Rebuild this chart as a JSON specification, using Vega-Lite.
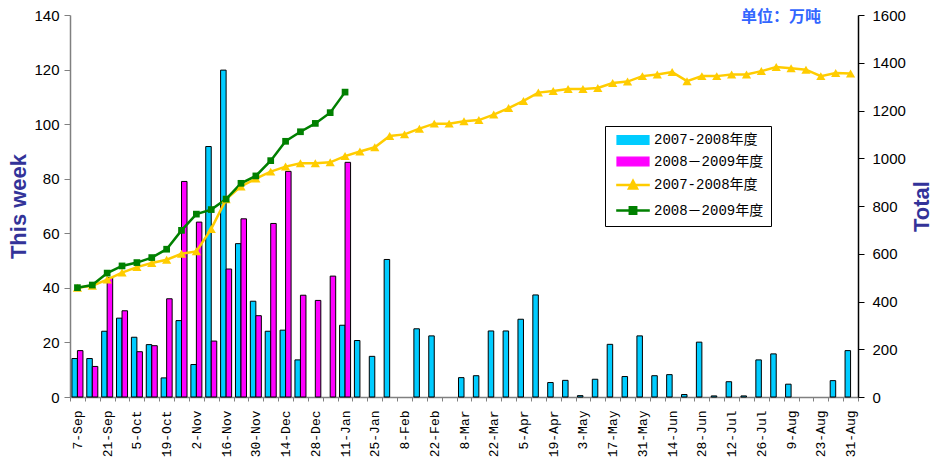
{
  "$schema": "https://vega.github.io/schema/vega-lite/v6.json",
  "autosize": "none",
  "width": 788,
  "height": 382,
  "padding": {"left": 70, "top": 15, "right": 82, "bottom": 68},
  "background": "white",
  "config": {
    "view": {"stroke": null},
    "axis": {"grid": false},
    "legend": {
      "orient": "none", "legendX": 535, "legendY": 111,
      "direction": "vertical",
      "strokeColor": "black", "fillColor": "white", "padding": 7,
      "labelFont": "Liberation Mono, Noto Sans CJK SC", "labelFontSize": 14, "labelColor": "black",
      "labelOffset": 14, "rowPadding": 7.5, "symbolOffset": 14
    }
  },
  "title": {"text": "单位：万吨", "anchor": "end", "frame": "group", "orient": "top", "font": "Noto Sans CJK SC", "fontSize": 16, "fontWeight": "bold", "color": "#3366FF", "dx": -37, "baseline": "middle", "offset": 0, "dy": 25},
  "datasets": {
    "bars": [
      {"week": "7-Sep", "series": "A07", "value": 14.1}, {"week": "7-Sep", "series": "A08", "value": 17.0},
      {"week": "14-Sep", "series": "A07", "value": 14.1}, {"week": "14-Sep", "series": "A08", "value": 11.2},
      {"week": "21-Sep", "series": "A07", "value": 24.1}, {"week": "21-Sep", "series": "A08", "value": 43.8},
      {"week": "28-Sep", "series": "A07", "value": 28.9}, {"week": "28-Sep", "series": "A08", "value": 31.6},
      {"week": "5-Oct", "series": "A07", "value": 21.9}, {"week": "5-Oct", "series": "A08", "value": 16.6},
      {"week": "12-Oct", "series": "A07", "value": 19.2}, {"week": "12-Oct", "series": "A08", "value": 18.8},
      {"week": "19-Oct", "series": "A07", "value": 7.0}, {"week": "19-Oct", "series": "A08", "value": 36.0},
      {"week": "26-Oct", "series": "A07", "value": 28.0}, {"week": "26-Oct", "series": "A08", "value": 79.0},
      {"week": "2-Nov", "series": "A07", "value": 11.9}, {"week": "2-Nov", "series": "A08", "value": 64.1},
      {"week": "9-Nov", "series": "A07", "value": 91.8}, {"week": "9-Nov", "series": "A08", "value": 20.5},
      {"week": "16-Nov", "series": "A07", "value": 119.8}, {"week": "16-Nov", "series": "A08", "value": 46.9},
      {"week": "23-Nov", "series": "A07", "value": 56.2}, {"week": "23-Nov", "series": "A08", "value": 65.3},
      {"week": "30-Nov", "series": "A07", "value": 35.1}, {"week": "30-Nov", "series": "A08", "value": 29.8},
      {"week": "7-Dec", "series": "A07", "value": 24.1}, {"week": "7-Dec", "series": "A08", "value": 63.6},
      {"week": "14-Dec", "series": "A07", "value": 24.5}, {"week": "14-Dec", "series": "A08", "value": 82.7},
      {"week": "21-Dec", "series": "A07", "value": 13.6}, {"week": "21-Dec", "series": "A08", "value": 37.3},
      {"week": "28-Dec", "series": "A08", "value": 35.4},
      {"week": "4-Jan", "series": "A08", "value": 44.3},
      {"week": "11-Jan", "series": "A07", "value": 26.3}, {"week": "11-Jan", "series": "A08", "value": 86.0},
      {"week": "18-Jan", "series": "A07", "value": 20.7},
      {"week": "25-Jan", "series": "A07", "value": 14.9},
      {"week": "1-Feb", "series": "A07", "value": 50.4},
      {"week": "15-Feb", "series": "A07", "value": 25.0},
      {"week": "22-Feb", "series": "A07", "value": 22.4},
      {"week": "8-Mar", "series": "A07", "value": 7.1},
      {"week": "15-Mar", "series": "A07", "value": 7.8},
      {"week": "22-Mar", "series": "A07", "value": 24.2},
      {"week": "29-Mar", "series": "A07", "value": 24.2},
      {"week": "5-Apr", "series": "A07", "value": 28.5},
      {"week": "12-Apr", "series": "A07", "value": 37.4},
      {"week": "19-Apr", "series": "A07", "value": 5.3},
      {"week": "26-Apr", "series": "A07", "value": 6.1},
      {"week": "3-May", "series": "A07", "value": 0.5},
      {"week": "10-May", "series": "A07", "value": 6.5},
      {"week": "17-May", "series": "A07", "value": 19.3},
      {"week": "24-May", "series": "A07", "value": 7.5},
      {"week": "31-May", "series": "A07", "value": 22.4},
      {"week": "7-Jun", "series": "A07", "value": 7.8},
      {"week": "14-Jun", "series": "A07", "value": 8.2},
      {"week": "21-Jun", "series": "A07", "value": 0.9},
      {"week": "28-Jun", "series": "A07", "value": 20.1},
      {"week": "5-Jul", "series": "A07", "value": 0.4},
      {"week": "12-Jul", "series": "A07", "value": 5.6},
      {"week": "19-Jul", "series": "A07", "value": 0.4},
      {"week": "26-Jul", "series": "A07", "value": 13.6},
      {"week": "2-Aug", "series": "A07", "value": 15.8},
      {"week": "9-Aug", "series": "A07", "value": 4.7},
      {"week": "30-Aug", "series": "A07", "value": 6.0},
      {"week": "31-Aug", "series": "A07", "value": 17.0}
    ],
    "totals": [
      {"week": "7-Sep", "series": "L07", "total": 458}, {"week": "14-Sep", "series": "L07", "total": 466},
      {"week": "21-Sep", "series": "L07", "total": 492}, {"week": "28-Sep", "series": "L07", "total": 521},
      {"week": "5-Oct", "series": "L07", "total": 544}, {"week": "12-Oct", "series": "L07", "total": 561},
      {"week": "19-Oct", "series": "L07", "total": 575}, {"week": "26-Oct", "series": "L07", "total": 600},
      {"week": "2-Nov", "series": "L07", "total": 610}, {"week": "9-Nov", "series": "L07", "total": 704},
      {"week": "16-Nov", "series": "L07", "total": 828}, {"week": "23-Nov", "series": "L07", "total": 882},
      {"week": "30-Nov", "series": "L07", "total": 915}, {"week": "7-Dec", "series": "L07", "total": 944},
      {"week": "14-Dec", "series": "L07", "total": 965}, {"week": "21-Dec", "series": "L07", "total": 979},
      {"week": "28-Dec", "series": "L07", "total": 979}, {"week": "4-Jan", "series": "L07", "total": 983},
      {"week": "11-Jan", "series": "L07", "total": 1009}, {"week": "18-Jan", "series": "L07", "total": 1028},
      {"week": "25-Jan", "series": "L07", "total": 1046}, {"week": "1-Feb", "series": "L07", "total": 1093},
      {"week": "8-Feb", "series": "L07", "total": 1100}, {"week": "15-Feb", "series": "L07", "total": 1124},
      {"week": "22-Feb", "series": "L07", "total": 1145}, {"week": "1-Mar", "series": "L07", "total": 1145},
      {"week": "8-Mar", "series": "L07", "total": 1155}, {"week": "15-Mar", "series": "L07", "total": 1160},
      {"week": "22-Mar", "series": "L07", "total": 1183}, {"week": "29-Mar", "series": "L07", "total": 1210},
      {"week": "5-Apr", "series": "L07", "total": 1240}, {"week": "12-Apr", "series": "L07", "total": 1275},
      {"week": "19-Apr", "series": "L07", "total": 1282}, {"week": "26-Apr", "series": "L07", "total": 1290},
      {"week": "3-May", "series": "L07", "total": 1290}, {"week": "10-May", "series": "L07", "total": 1294},
      {"week": "17-May", "series": "L07", "total": 1315}, {"week": "24-May", "series": "L07", "total": 1321},
      {"week": "31-May", "series": "L07", "total": 1344}, {"week": "7-Jun", "series": "L07", "total": 1351},
      {"week": "14-Jun", "series": "L07", "total": 1361}, {"week": "21-Jun", "series": "L07", "total": 1323},
      {"week": "28-Jun", "series": "L07", "total": 1344}, {"week": "5-Jul", "series": "L07", "total": 1344},
      {"week": "12-Jul", "series": "L07", "total": 1351}, {"week": "19-Jul", "series": "L07", "total": 1351},
      {"week": "26-Jul", "series": "L07", "total": 1365}, {"week": "2-Aug", "series": "L07", "total": 1382},
      {"week": "9-Aug", "series": "L07", "total": 1377}, {"week": "16-Aug", "series": "L07", "total": 1371},
      {"week": "23-Aug", "series": "L07", "total": 1344}, {"week": "30-Aug", "series": "L07", "total": 1357},
      {"week": "31-Aug", "series": "L07", "total": 1355},
      {"week": "7-Sep", "series": "L08", "total": 458}, {"week": "14-Sep", "series": "L08", "total": 469},
      {"week": "21-Sep", "series": "L08", "total": 519}, {"week": "28-Sep", "series": "L08", "total": 549},
      {"week": "5-Oct", "series": "L08", "total": 563}, {"week": "12-Oct", "series": "L08", "total": 584},
      {"week": "19-Oct", "series": "L08", "total": 619}, {"week": "26-Oct", "series": "L08", "total": 698},
      {"week": "2-Nov", "series": "L08", "total": 766}, {"week": "9-Nov", "series": "L08", "total": 785},
      {"week": "16-Nov", "series": "L08", "total": 829}, {"week": "23-Nov", "series": "L08", "total": 895},
      {"week": "30-Nov", "series": "L08", "total": 926}, {"week": "7-Dec", "series": "L08", "total": 990},
      {"week": "14-Dec", "series": "L08", "total": 1071}, {"week": "21-Dec", "series": "L08", "total": 1111},
      {"week": "28-Dec", "series": "L08", "total": 1146}, {"week": "4-Jan", "series": "L08", "total": 1191},
      {"week": "11-Jan", "series": "L08", "total": 1277}
    ]
  },
  "layer": [
    {
      "data": {"name": "bars"},
      "mark": {"type": "bar", "stroke": "black", "strokeWidth": 1},
      "encoding": {
        "x": {
          "field": "week", "type": "nominal",
          "scale": {
            "domain": ["7-Sep","14-Sep","21-Sep","28-Sep","5-Oct","12-Oct","19-Oct","26-Oct","2-Nov","9-Nov","16-Nov","23-Nov","30-Nov","7-Dec","14-Dec","21-Dec","28-Dec","4-Jan","11-Jan","18-Jan","25-Jan","1-Feb","8-Feb","15-Feb","22-Feb","1-Mar","8-Mar","15-Mar","22-Mar","29-Mar","5-Apr","12-Apr","19-Apr","26-Apr","3-May","10-May","17-May","24-May","31-May","7-Jun","14-Jun","21-Jun","28-Jun","5-Jul","12-Jul","19-Jul","26-Jul","2-Aug","9-Aug","16-Aug","23-Aug","30-Aug","31-Aug"],
            "paddingInner": 0, "paddingOuter": 0
          },
          "axis": {
            "title": null,
            "labelAngle": -90, "labelAlign": "right", "labelBaseline": "middle",
            "labelFont": "Liberation Mono", "labelFontSize": 13, "labelColor": "black",
            "labelPadding": 9, "labelOverlap": false,
            "labelExpr": "indexof(['7-Sep','21-Sep','5-Oct','19-Oct','2-Nov','16-Nov','30-Nov','14-Dec','28-Dec','11-Jan','25-Jan','8-Feb','22-Feb','8-Mar','22-Mar','5-Apr','19-Apr','3-May','17-May','31-May','14-Jun','28-Jun','12-Jul','26-Jul','9-Aug','23-Aug','31-Aug'], datum.value) >= 0 ? datum.value : ''",
            "tickBand": "extent", "tickSize": 4, "tickColor": "#808080",
            "domainColor": "#808080", "domainWidth": 1.5
          }
        },
        "xOffset": {"field": "series", "type": "nominal", "scale": {"domain": ["A07", "A08"], "paddingOuter": 0.35, "paddingInner": 0}},
        "y": {
          "field": "value", "type": "quantitative",
          "scale": {"domain": [0, 140]},
          "axis": {
            "title": "This week", "values": [0, 20, 40, 60, 80, 100, 120, 140],
            "labelFont": "Liberation Sans", "labelFontSize": 15, "labelColor": "black", "labelPadding": 5,
            "tickSize": 6, "tickColor": "#808080", "domainColor": "#808080", "domainWidth": 1.5,
            "titleFont": "Liberation Sans", "titleFontSize": 22, "titleFontWeight": "bold", "titleColor": "#333399", "titlePadding": 3
          }
        },
        "color": {
          "field": "series", "type": "nominal",
          "scale": {"domain": ["A07", "A08", "L07", "L08"], "range": ["#00CCFF", "#FF00FF", "#FFCC00", "#008000"]},
          "legend": {
            "title": null,
            "labelExpr": "(datum.value == 'A07' || datum.value == 'L07') ? '2007-2008年度' : '2008－2009年度'",
            "symbolType": "M-2,-0.55H2V0.55H-2Z",
            "symbolSize": 256,
            "encode": {
              "symbols": {
                "update": {
                  "shape": {"signal": "datum.value == 'A07' || datum.value == 'A08' ? 'M-2,-0.55H2V0.55H-2Z' : (datum.value == 'L07' ? 'M-2.1,0H2.1M-0.5,0.45L0,-0.5L0.5,0.45Z' : 'M-2.1,0H2.1M-0.4,-0.4H0.4V0.4H-0.4Z')"},
                  "fill": {"signal": "datum.value == 'A07' ? '#00CCFF' : datum.value == 'A08' ? '#FF00FF' : datum.value == 'L07' ? '#FFCC00' : '#008000'"},
                  "stroke": {"signal": "datum.value == 'A07' || datum.value == 'A08' ? 'black' : (datum.value == 'L07' ? '#FFCC00' : '#008000')"},
                  "strokeWidth": {"signal": "datum.value == 'A07' || datum.value == 'A08' ? 1.2 : 2.5"},
                  "opacity": {"value": 1},
                  "fillOpacity": {"value": 1}
                }
              }
            }
          }
        }
      }
    },
    {
      "data": {"name": "totals"},
      "layer": [
        {
          "mark": {"type": "line", "strokeWidth": 2.5},
          "encoding": {
            "x": {"field": "week", "type": "nominal"},
            "y": {
              "field": "total", "type": "quantitative",
              "scale": {"domain": [0, 1600]},
              "axis": {
                "orient": "right", "title": "Total", "values": [0, 200, 400, 600, 800, 1000, 1200, 1400, 1600], "format": "d",
                "labelFont": "Liberation Sans", "labelFontSize": 15, "labelColor": "black", "labelPadding": 8,
                "tickSize": 6, "tickColor": "black", "domainColor": "black", "domainWidth": 1.5,
                "titleFont": "Liberation Sans", "titleFontSize": 22, "titleFontWeight": "bold", "titleColor": "#333399",
                "titleAngle": 270, "titleBaseline": "top", "titlePadding": 6
              }
            },
            "color": {"field": "series", "type": "nominal", "legend": {
            "title": null,
            "labelExpr": "(datum.value == 'A07' || datum.value == 'L07') ? '2007-2008年度' : '2008－2009年度'",
            "symbolType": "M-2,-0.55H2V0.55H-2Z",
            "symbolSize": 256,
            "encode": {
              "symbols": {
                "update": {
                  "shape": {"signal": "datum.value == 'A07' || datum.value == 'A08' ? 'M-2,-0.55H2V0.55H-2Z' : (datum.value == 'L07' ? 'M-2.1,0H2.1M-0.5,0.45L0,-0.5L0.5,0.45Z' : 'M-2.1,0H2.1M-0.4,-0.4H0.4V0.4H-0.4Z')"},
                  "fill": {"signal": "datum.value == 'A07' ? '#00CCFF' : datum.value == 'A08' ? '#FF00FF' : datum.value == 'L07' ? '#FFCC00' : '#008000'"},
                  "stroke": {"signal": "datum.value == 'A07' || datum.value == 'A08' ? 'black' : (datum.value == 'L07' ? '#FFCC00' : '#008000')"},
                  "strokeWidth": {"signal": "datum.value == 'A07' || datum.value == 'A08' ? 1.2 : 2.5"},
                  "opacity": {"value": 1},
                  "fillOpacity": {"value": 1}
                }
              }
            }
          }}
          }
        },
        {
          "mark": {"type": "point", "filled": true, "opacity": 1},
          "encoding": {
            "x": {"field": "week", "type": "nominal"},
            "y": {
              "field": "total", "type": "quantitative",
              "axis": {
                "orient": "right", "title": "Total", "values": [0, 200, 400, 600, 800, 1000, 1200, 1400, 1600], "format": "d",
                "labelFont": "Liberation Sans", "labelFontSize": 15, "labelColor": "black", "labelPadding": 8,
                "tickSize": 6, "tickColor": "black", "domainColor": "black", "domainWidth": 1.5,
                "titleFont": "Liberation Sans", "titleFontSize": 22, "titleFontWeight": "bold", "titleColor": "#333399",
                "titleAngle": 270, "titleBaseline": "top", "titlePadding": 6
              }
            },
            "color": {"field": "series", "type": "nominal", "legend": {
            "title": null,
            "labelExpr": "(datum.value == 'A07' || datum.value == 'L07') ? '2007-2008年度' : '2008－2009年度'",
            "symbolType": "M-2,-0.55H2V0.55H-2Z",
            "symbolSize": 256,
            "encode": {
              "symbols": {
                "update": {
                  "shape": {"signal": "datum.value == 'A07' || datum.value == 'A08' ? 'M-2,-0.55H2V0.55H-2Z' : (datum.value == 'L07' ? 'M-2.1,0H2.1M-0.5,0.45L0,-0.5L0.5,0.45Z' : 'M-2.1,0H2.1M-0.4,-0.4H0.4V0.4H-0.4Z')"},
                  "fill": {"signal": "datum.value == 'A07' ? '#00CCFF' : datum.value == 'A08' ? '#FF00FF' : datum.value == 'L07' ? '#FFCC00' : '#008000'"},
                  "stroke": {"signal": "datum.value == 'A07' || datum.value == 'A08' ? 'black' : (datum.value == 'L07' ? '#FFCC00' : '#008000')"},
                  "strokeWidth": {"signal": "datum.value == 'A07' || datum.value == 'A08' ? 1.2 : 2.5"},
                  "opacity": {"value": 1},
                  "fillOpacity": {"value": 1}
                }
              }
            }
          }},
            "shape": {"field": "series", "type": "nominal", "scale": {"domain": ["L07", "L08"], "range": ["triangle-up", "square"]}, "legend": null},
            "size": {"field": "series", "type": "nominal", "scale": {"domain": ["L07", "L08"], "range": [85, 45]}, "legend": null}
          }
        }
      ]
    }
  ],
  "resolve": {"scale": {"y": "independent"}}
}
